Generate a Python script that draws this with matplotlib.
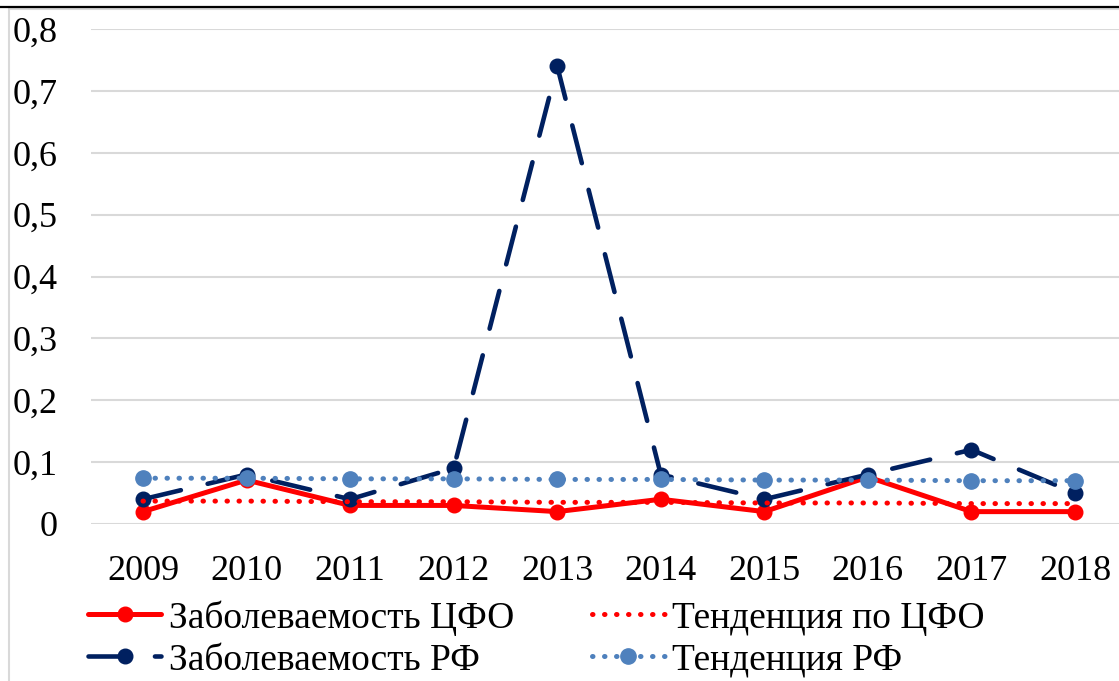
import matplotlib
matplotlib.use("Agg")
import matplotlib.pyplot as plt
from matplotlib.patches import Rectangle
from matplotlib.lines import Line2D

years = ["2009", "2010", "2011", "2012", "2013", "2014", "2015", "2016", "2017", "2018"]
cfo = [0.02, 0.071, 0.03, 0.03, 0.02, 0.04, 0.02, 0.076, 0.02, 0.02]
rf = [0.04, 0.08, 0.04, 0.09, 0.74, 0.08, 0.04, 0.08, 0.12, 0.05]
trend_cfo = [0.037, 0.037, 0.036, 0.036, 0.035, 0.035, 0.034, 0.034, 0.033, 0.033]
trend_rf = [0.074, 0.074, 0.073, 0.073, 0.072, 0.072, 0.071, 0.071, 0.070, 0.070]
yticks = [0, 0.1, 0.2, 0.3, 0.4, 0.5, 0.6, 0.7, 0.8]
ytick_labels = ["0", "0,1", "0,2", "0,3", "0,4", "0,5", "0,6", "0,7", "0,8"]
labels = ["Заболеваемость ЦФО", "Заболеваемость РФ", "Тенденция по ЦФО", "Тенденция РФ"]

plt.rcParams['font.family'] = ['Liberation Serif', 'DejaVu Serif']

W, H = 1119, 681
fig = plt.figure(figsize=(W / 100, H / 100), dpi=100)

# frame and top rule
fig.add_artist(Rectangle((9 / W, -0.1), 1.2, (H - 9) / H + 0.1, transform=fig.transFigure,
                         fill=False, edgecolor="#D9D9D9", linewidth=1.5))
fig.add_artist(Line2D([0, 1], [(H - 6.5) / H] * 2, transform=fig.transFigure,
                      color="black", linewidth=1.6))

left_px, right_px = 91.2, 1126.8
top_px, bot_px = 29, 524
ax = fig.add_axes([left_px / W, (H - bot_px) / H, (right_px - left_px) / W, (bot_px - top_px) / H])

x = list(range(len(years)))
navy = "#002060"
lblue = "#4F81BD"
red = "#FF0000"

l1, = ax.plot(x, cfo, color=red, linewidth=3.6, marker="o", markersize=10.5,
              solid_capstyle="round", zorder=3, clip_on=False)
l2, = ax.plot(x, rf, color=navy, linewidth=3.3, marker="o", markersize=10.5,
              dashes=(8.5, 6.0), dash_capstyle="round", zorder=4, clip_on=False)
l3, = ax.plot(x, trend_cfo, color=red, linewidth=3.6, linestyle=(0, (0.1, 2.3)),
              dash_capstyle="round", zorder=5, clip_on=False)
l4, = ax.plot(x, trend_rf, color=lblue, linewidth=3.6, linestyle=(0, (0.1, 2.3)),
              dash_capstyle="round", marker="o", markersize=11, zorder=6, clip_on=False)

ax.set_xlim(-0.5, len(years) - 0.5)
ax.set_ylim(0, 0.8)
ax.set_yticks(yticks)
ax.set_yticklabels(ytick_labels)
ax.set_xticks(x)
ax.set_xticklabels(years)
ax.grid(axis="y", color="#D9D9D9", linewidth=1.5, zorder=0)
ax.set_axisbelow(True)
for s in ax.spines.values():
    s.set_visible(False)
ax.tick_params(axis="both", length=0, labelsize=26)
ax.tick_params(axis="y", pad=24)
ax.tick_params(axis="x", pad=22)

fig.legend([l1, l2, l3, l4], labels, ncol=2, loc="upper left",
           bbox_to_anchor=(88 / W, (H - 600) / H), bbox_transform=fig.transFigure,
           frameon=False, fontsize=27, handlelength=1.95, handletextpad=0.2,
           columnspacing=2.07, labelspacing=0.2, borderpad=0, borderaxespad=0)

fig.savefig("out.png", dpi=100)
